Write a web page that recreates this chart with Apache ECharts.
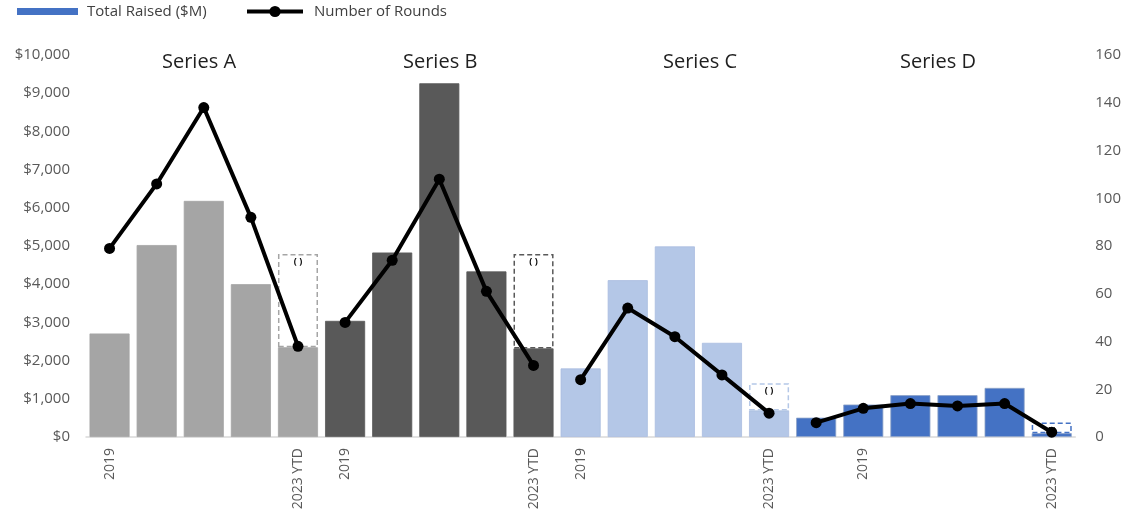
<!DOCTYPE html>
<html>
<head>
<meta charset="utf-8">
<script src="https://cdn.jsdelivr.net/npm/echarts@6/dist/echarts.min.js"></script>
<style>
html,body{margin:0;padding:0;background:#fff;}
#chart{width:1124px;height:517px;}
</style>
</head>
<body>
<div id="chart"></div>
<script>
// ---- data ----
const categories = [
  'A-2019','A-2020','A-2021','A-2022','A-2023 YTD',
  'B-2019','B-2020','B-2021','B-2022','B-2023 YTD',
  'C-2019','C-2020','C-2021','C-2022','C-2023 YTD',
  'D-2018','D-2019','D-2020','D-2021','D-2022','D-2023 YTD'
];
const xTickLabels = [
  '2019','','','','2023 YTD',
  '2019','','','','2023 YTD',
  '2019','','','','2023 YTD',
  '','2019','','','','2023 YTD'
];
const groupOf = ['A','A','A','A','A','B','B','B','B','B','C','C','C','C','C','D','D','D','D','D','D'];
const totalRaised = [
  2710, 5025, 6180, 4000, 2350,
  3040, 4830, 9260, 4335, 2320,
  1795, 4105, 4990, 2465, 695,
  505, 850, 1095, 1095, 1285, 100
];
// projected full-year total (dashed outline) for YTD bars
const projectedTotal = [
  null, null, null, null, 4790,
  null, null, null, null, 4790,
  null, null, null, null, 1410,
  null, null, null, null, null, 380
];
const roundsA = [79, 106, 138, 92, 38];
const roundsB = [48, 74, 108, 61, 30];
const roundsC = [24, 54, 42, 26, 10];
const roundsD = [6, 12, 14, 13, 14, 2];
const groupStart = {A:0, B:5, C:10, D:15};
const groupTitles = ['Series A','Series B','Series C','Series D'];
const leftTicks = {min:0, max:10000, interval:1000};
const rightTicks = {min:0, max:160, interval:20};

// ---- styles ----
const groupColor = {A:'#A5A5A5', B:'#595959', C:'#B4C7E7', D:'#4472C4'};
const dashColor = {A:'#A5A5A5', B:'#595959', C:'#B4C7E7', D:'#4472C4'};
const borderColor = {A:'#A5A5A5', B:'#595959', C:'#A9BCE0', D:'#8EA3C8'};
const FONT = 'Open Sans';

const barData = totalRaised.map((v,i)=>({value:v, itemStyle:{color:groupColor[groupOf[i]], borderColor:borderColor[groupOf[i]], borderWidth:0.8}}));
const dashData = projectedTotal.map((p,i)=> p==null ? '-' : {
  value: p - totalRaised[i],
  itemStyle:{color:'rgba(0,0,0,0)', borderColor:dashColor[groupOf[i]], borderWidth:1.5, borderType:[5,3]}
});

function lineSeries(key, vals){
  const d = categories.map(()=> '-');
  vals.forEach((v,k)=>{ d[groupStart[key]+k] = v; });
  return {
    name:'Number of Rounds', type:'line', yAxisIndex:1, data:d,
    symbol:'circle', symbolSize:11, connectNulls:false,
    lineStyle:{color:'#000', width:4}, itemStyle:{color:'#000'}, z:10
  };
}

const chart = echarts.init(document.getElementById('chart'), null, {renderer:'canvas'});
chart.setOption({
  animation:false,
  textStyle:{fontFamily:FONT},
  legend:[
    {
      left:12, top:-1, itemWidth:61, itemHeight:7,
      textStyle:{fontFamily:FONT, fontSize:15, color:'#404040', padding:[0,0,0,4]},
      data:[{name:'Total Raised ($M)', icon:'rect', itemStyle:{color:'#4472C4'}}]
    },
    {
      left:240, top:-1, itemWidth:56, itemHeight:14,
      textStyle:{fontFamily:FONT, fontSize:15, color:'#404040', padding:[0,0,0,6]},
      lineStyle:{width:4, color:'#000'},
      data:[{name:'Number of Rounds'}]
    }
  ],
  grid:{left:86, right:47, top:55, bottom:80},
  xAxis:{
    type:'category', data:categories,
    axisLine:{lineStyle:{color:'#D9D9D9', width:1.5}},
    axisTick:{show:false},
    axisLabel:{interval:0, rotate:90, margin:11, fontFamily:FONT, fontSize:14, color:'#595959',
      formatter:(v,i)=>xTickLabels[i]}
  },
  yAxis:[
    {type:'value', min:leftTicks.min, max:leftTicks.max, interval:leftTicks.interval,
      splitLine:{show:false}, axisLine:{show:false}, axisTick:{show:false},
      axisLabel:{margin:16, fontFamily:FONT, fontSize:15, color:'#595959',
        formatter:v=>'$'+v.toLocaleString('en-US')}},
    {type:'value', min:rightTicks.min, max:rightTicks.max, interval:rightTicks.interval,
      splitLine:{show:false}, axisLine:{show:false}, axisTick:{show:false},
      axisLabel:{margin:20, fontFamily:FONT, fontSize:15, color:'#595959'}}
  ],
  series:[
    {name:'Total Raised ($M)', type:'bar', stack:'money', data:barData,
      barCategoryGap:'15%', itemStyle:{color:'#4472C4'}},
    {name:'Projected', type:'bar', stack:'money', data:dashData, barCategoryGap:'15%',
      label:{show:true, position:'insideTop', distance:3, formatter:'( )', fontFamily:FONT, fontSize:9,
        fontWeight:'bold', color:'#000'}},
    lineSeries('A', roundsA),
    lineSeries('B', roundsB),
    lineSeries('C', roundsC),
    lineSeries('D', roundsD)
  ],
  graphic: groupTitles.map((t,k)=>({
    type:'text', left:[162,403,663,900][k], top:52,
    style:{text:t, font:'20px "Open Sans"', fill:'#1F1F1F'}
  }))
});
</script>
</body>
</html>
